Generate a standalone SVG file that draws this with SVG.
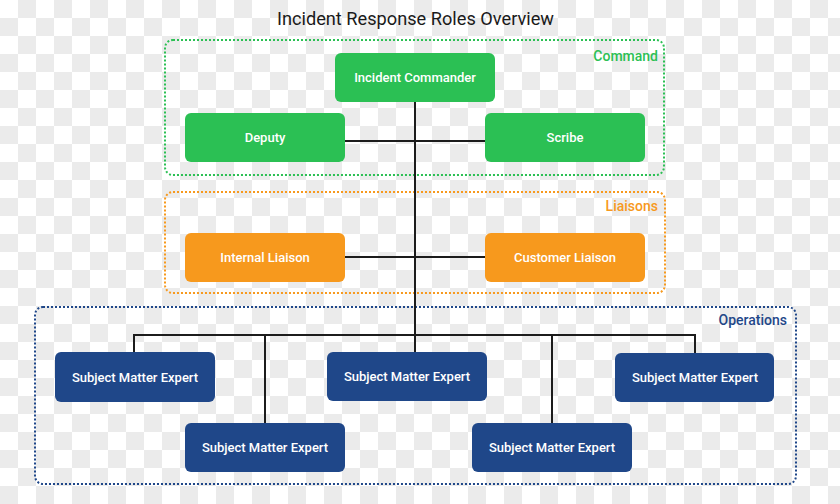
<svg xmlns="http://www.w3.org/2000/svg" width="840" height="504" viewBox="0 0 840 504">
<defs>
<pattern id="checker" x="0" y="0" width="36" height="36" patternUnits="userSpaceOnUse">
<rect x="0" y="0" width="36" height="36" fill="#ffffff"/>
<rect x="18" y="0" width="18" height="18" fill="#ebebeb"/>
<rect x="0" y="18" width="18" height="18" fill="#ebebeb"/>
</pattern>
</defs>
<style>
.title{font-family:Roboto,"Liberation Sans",sans-serif;font-size:18.2px;fill:#1a1a1a;text-anchor:middle}
.grp{fill:none;stroke-width:2;stroke-dasharray:2 2}
.glabel{font-family:Roboto,"Liberation Sans",sans-serif;font-size:14px;font-weight:500;text-anchor:end}
.node rect{stroke:none}
.node text{font-family:Roboto,"Liberation Sans",sans-serif;font-size:13px;font-weight:500;fill:#ffffff;text-anchor:middle}
.g rect{fill:#2bc054}
.o rect{fill:#f7991d}
.b rect{fill:#1f4789}
.conn{fill:none;stroke:#1c1c1c;stroke-width:2}
</style>
<rect x="0" y="0" width="840" height="504" fill="url(#checker)"/>
<text class="title" x="415.5" y="25">Incident Response Roles Overview</text>

<g id="group-command">
<rect class="grp" x="165" y="40" width="499" height="135" rx="8" stroke="#2bc054"/>
<text class="glabel" x="658" y="61" fill="#2bc054">Command</text>
</g>
<g id="group-liaisons">
<rect class="grp" x="165" y="192" width="500" height="101" rx="8" stroke="#f7991d"/>
<text class="glabel" x="658" y="211" fill="#f7991d">Liaisons</text>
</g>
<g id="group-operations">
<rect class="grp" x="35" y="307" width="761" height="177" rx="8" stroke="#1f4789"/>
<text class="glabel" x="787" y="325" fill="#1f4789">Operations</text>
</g>

<g id="connectors">
<line class="conn" x1="415" y1="102" x2="415" y2="352"/>
<line class="conn" x1="345" y1="141" x2="485" y2="141"/>
<line class="conn" x1="345" y1="257" x2="485" y2="257"/>
<polyline class="conn" points="134,352 134,335 695,335 695,353"/>
<line class="conn" x1="265" y1="335" x2="265" y2="423"/>
<line class="conn" x1="552" y1="335" x2="552" y2="423"/>
</g>

<g id="incident-commander" class="node g">
<rect x="335" y="53" width="160" height="49" rx="6"/>
<text x="415" y="82">Incident Commander</text>
</g>
<g id="deputy" class="node g">
<rect x="185" y="113" width="160" height="49" rx="6"/>
<text x="265" y="142">Deputy</text>
</g>
<g id="scribe" class="node g">
<rect x="485" y="113" width="160" height="49" rx="6"/>
<text x="565" y="142">Scribe</text>
</g>
<g id="internal-liaison" class="node o">
<rect x="185" y="233" width="160" height="49" rx="6"/>
<text x="265" y="262">Internal Liaison</text>
</g>
<g id="customer-liaison" class="node o">
<rect x="485" y="233" width="160" height="49" rx="6"/>
<text x="565" y="262">Customer Liaison</text>
</g>
<g id="sme-1" class="node b">
<rect x="55" y="352" width="160" height="50" rx="6"/>
<text x="135" y="382">Subject Matter Expert</text>
</g>
<g id="sme-2" class="node b">
<rect x="185" y="423" width="160" height="49" rx="6"/>
<text x="265" y="452">Subject Matter Expert</text>
</g>
<g id="sme-3" class="node b">
<rect x="327" y="352" width="160" height="49" rx="6"/>
<text x="407" y="381">Subject Matter Expert</text>
</g>
<g id="sme-4" class="node b">
<rect x="472" y="423" width="160" height="49" rx="6"/>
<text x="552" y="452">Subject Matter Expert</text>
</g>
<g id="sme-5" class="node b">
<rect x="615" y="353" width="159" height="49" rx="6"/>
<text x="695" y="382">Subject Matter Expert</text>
</g>
</svg>
